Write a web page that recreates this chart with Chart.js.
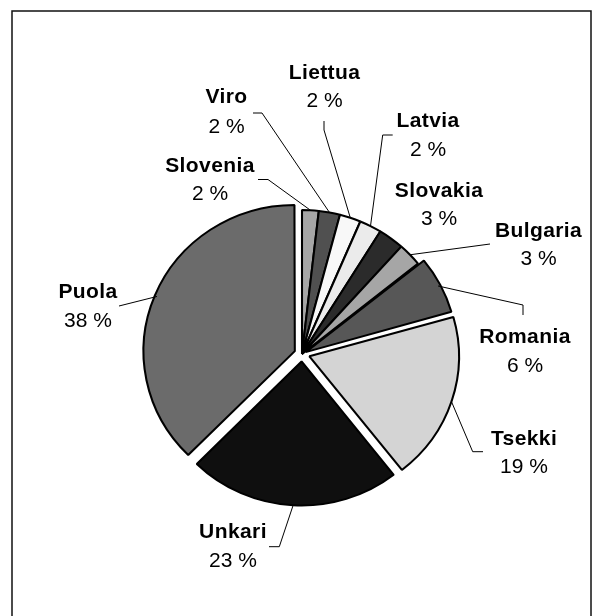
<!DOCTYPE html>
<html>
<head>
<meta charset="utf-8">
<script src="https://cdn.jsdelivr.net/npm/chart.js@4/dist/chart.umd.min.js"></script>
<style>
html,body{margin:0;padding:0;background:#fff;}
canvas{display:block;}
</style>
</head>
<body>
<canvas id="c" width="594" height="616"></canvas>
<script>
// ---- data ----
const categories = ['Slovenia','Viro','Liettua','Latvia','Slovakia','Bulgaria','Romania','Tsekki','Unkari','Puola'];
const shares = [1.8, 2.3, 2.3, 2.4, 2.8, 2.6, 6.4, 18.8, 23.0, 37.6];

// ---- styles / layout ----
const colors = ['#a6a6a6','#505050','#f8f8f8','#ebebeb','#2b2b2b','#a6a6a6','#575757','#d4d4d4','#0f0f0f','#6b6b6b'];
const explodePx = [0,0,0,0,0,0,4,7.5,7.5,7.5];
const stretchX = 1.035;
const labelX   = [210, 226.5, 324.5, 428, 439, 538.5, 525, 524, 233, 88];
const nameBase = [172, 103, 79, 127, 197, 237, 343, 445, 538, 298];
const pctBase  = [200, 133, 107, 156, 225, 265, 372, 473, 567, 327];
const leaderKnees = [
  [[258,179.5],[268,179.5]],
  [[253,113],[262,113]],
  [[324,121],[324,130]],
  [[392.7,135],[382.7,135]],
  [],
  [[490,244]],
  [[523,315],[523,305]],
  [[483,451.7],[472.7,451.7]],
  [[269,546.7],[279.3,546.7]],
  [[119,306]]
];

const total = shares.reduce((a,b)=>a+b,0);

const framePlugin = {
  id:'frame',
  beforeDraw(chart){
    const ctx = chart.ctx;
    ctx.save();
    ctx.fillStyle = '#fff';
    ctx.fillRect(0,0,chart.width,chart.height);
    ctx.strokeStyle = '#111';
    ctx.lineWidth = 1.5;
    ctx.strokeRect(12, 11, 579, 1000);
    ctx.restore();
  }
};

const stretchPlugin = {
  id:'stretch',
  beforeDatasetsDraw(chart){
    const el = chart.getDatasetMeta(0).data[0];
    const ctx = chart.ctx;
    ctx.save();
    ctx.translate(el.x, el.y);
    ctx.scale(stretchX, 1);
    ctx.translate(-el.x, -el.y);
  },
  afterDatasetsDraw(chart){
    chart.ctx.restore();
  }
};

const labelPlugin = {
  id:'labels',
  afterDraw(chart){
    const ctx = chart.ctx;
    const arcs = chart.getDatasetMeta(0).data;
    ctx.save();
    // leader lines
    ctx.strokeStyle = '#000';
    ctx.lineWidth = 1;
    arcs.forEach((el,i)=>{
      const knees = leaderKnees[i];
      if(!knees.length) return;
      const p = el.getProps(['x','y','startAngle','endAngle','outerRadius'], true);
      const mid = (p.startAngle + p.endAngle)/2;
      const r = p.outerRadius + explodePx[i];
      let ex = p.x + Math.cos(mid)*r;
      const ey = p.y + Math.sin(mid)*r;
      ex = p.x + (ex - p.x)*stretchX;
      ctx.beginPath();
      ctx.moveTo(knees[0][0], knees[0][1]);
      for(let k=1;k<knees.length;k++) ctx.lineTo(knees[k][0], knees[k][1]);
      ctx.lineTo(ex, ey);
      ctx.stroke();
    });
    // texts
    ctx.fillStyle = '#000';
    ctx.textAlign = 'center';
    ctx.textBaseline = 'alphabetic';
    categories.forEach((name,i)=>{
      ctx.font = 'bold 21px "Liberation Sans", Arial, sans-serif';
      try{ ctx.letterSpacing = '0.4px'; }catch(e){}
      ctx.fillText(name, labelX[i], nameBase[i]);
      try{ ctx.letterSpacing = '0px'; }catch(e){}
      ctx.font = '21px "Liberation Sans", Arial, sans-serif';
      const pct = Math.round(shares[i]/total*100);
      ctx.fillText(pct + ' %', labelX[i], pctBase[i]);
    });
    ctx.restore();
  }
};

new Chart(document.getElementById('c'), {
  type:'pie',
  data:{
    labels: categories,
    datasets:[{
      data: shares,
      backgroundColor: colors,
      borderColor: '#000',
      borderWidth: 2,
      offset: explodePx.map(v=>v*4),
      radius: 144,
      clip: false
    }]
  },
  options:{
    responsive:false,
    animation:false,
    devicePixelRatio:1,
    layout:{padding:{left:10, right:0, top:92, bottom:0}},
    plugins:{legend:{display:false}, tooltip:{enabled:false}},
    events:[]
  },
  plugins:[framePlugin, stretchPlugin, labelPlugin]
});
</script>
</body>
</html>
